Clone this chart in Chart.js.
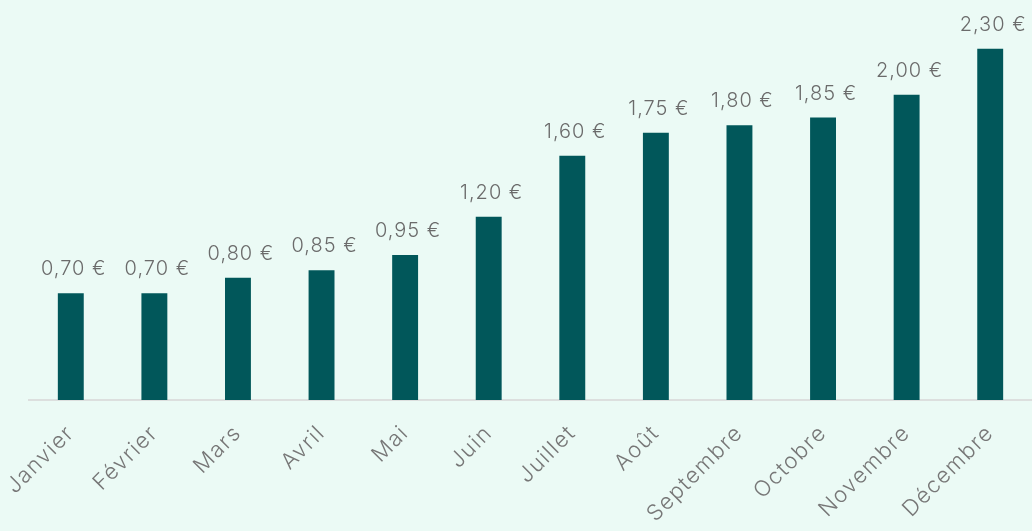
<!DOCTYPE html>
<html>
<head>
<meta charset="utf-8">
<script src="https://cdn.jsdelivr.net/npm/chart.js@4"></script>
<style>
  html, body { margin: 0; padding: 0; background: #ebfaf5; }
  .wrap { width: 1032px; height: 531px; position: relative; }
</style>
</head>
<body>
<div class="wrap"><canvas id="chart"></canvas></div>
<script>
  const months = ['Janvier', 'Février', 'Mars', 'Avril', 'Mai', 'Juin', 'Juillet', 'Août', 'Septembre', 'Octobre', 'Novembre', 'Décembre'];
  const prices = [0.70, 0.70, 0.80, 0.85, 0.95, 1.20, 1.60, 1.75, 1.80, 1.85, 2.00, 2.30];

  const fmt = v => v.toFixed(2).replace('.', ',') + ' €';
  const FONT = 'Inter, "Open Sans", sans-serif';

  // wider tracking, closer to the geometric font of the original
  const spacing = {
    id: 'spacing',
    beforeDraw(chart) { chart.ctx.letterSpacing = '1.5px'; }
  };

  // value labels above each bar
  const valueLabels = {
    id: 'valueLabels',
    afterDatasetsDraw(chart) {
      const ctx = chart.ctx;
      const meta = chart.getDatasetMeta(0);
      ctx.save();
      ctx.letterSpacing = '1px';
      ctx.font = '300 20px ' + FONT;
      ctx.fillStyle = '#6b6b6b';
      ctx.textAlign = 'center';
      ctx.textBaseline = 'bottom';
      meta.data.forEach((bar, i) => {
        ctx.fillText(fmt(prices[i]), bar.x + 3, bar.y - 14);
      });
      ctx.restore();
    }
  };

  new Chart(document.getElementById('chart'), {
    type: 'bar',
    data: {
      labels: months,
      datasets: [{ data: prices, backgroundColor: '#01575a', barPercentage: 0.31, categoryPercentage: 1 }]
    },
    options: {
      responsive: true, maintainAspectRatio: false, animation: false,
      layout: { padding: { left: 29, right: 0, top: 0, bottom: 0 } },
      plugins: { legend: { display: false }, tooltip: { enabled: false } },
      scales: {
        y: { display: false, min: 0, max: 2.62 },
        x: {
          grid: { display: false },
          border: { color: '#dcdfde', width: 2 },
          ticks: { color: '#777', font: { family: FONT, size: 22, weight: 300 }, minRotation: 45, maxRotation: 45, autoSkip: false, padding: 12 },
          afterFit(scale) { scale.height = 131; }
        }
      }
    },
    plugins: [spacing, valueLabels]
  });
</script>
</body>
</html>
